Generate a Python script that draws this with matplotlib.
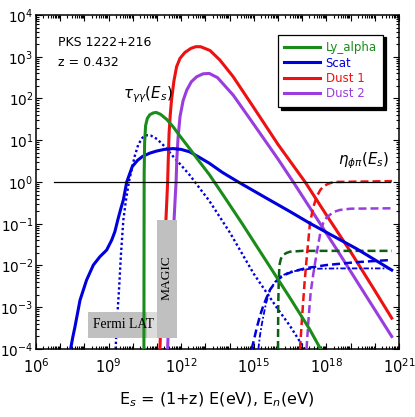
import numpy as np
import matplotlib
matplotlib.use('Agg')
import matplotlib.pyplot as plt
from matplotlib.patches import Rectangle
from matplotlib.ticker import LogLocator, FuncFormatter, NullFormatter

plt.rcParams['font.family'] = ['DejaVu Sans']
plt.rcParams['mathtext.fontset'] = 'dejavusans'

# ---------------- data (log10 of energy / log10 of value) ----------------
ly_logE = [10.46, 10.465, 10.47, 10.49, 10.53, 10.60, 10.70, 10.85, 10.97, 11.15, 11.40, 11.67, 11.95,
           12.40, 12.75, 13.16, 13.80, 14.50, 15.50, 16.50, 17.30, 17.76]
ly_tau = [-4.0, -1.5, 0.2, 0.95, 1.35, 1.52, 1.61, 1.655, 1.665, 1.62, 1.50, 1.32, 1.10,
          0.76, 0.49, 0.18, -0.37, -0.98, -1.88, -2.78, -3.52, -4.0]

scat_logE = [7.43, 7.52, 7.61, 7.82, 8.09, 8.37, 8.64, 8.92, 9.13, 9.26, 9.38, 9.50, 9.61, 9.75, 9.98,
             10.20, 10.40, 10.70, 10.98, 11.30, 11.67, 12.00, 12.36, 12.78, 13.16, 13.70, 14.36, 15.50,
             16.50, 17.32, 18.30, 19.25, 20.70]
scat_tau = [-4.0, -3.72, -3.47, -2.83, -2.35, -1.99, -1.79, -1.63, -1.39, -1.19, -0.91, -0.65, -0.43, 0.0, 0.37,
            0.52, 0.61, 0.69, 0.74, 0.78, 0.80, 0.78, 0.72, 0.58, 0.45, 0.23, 0.0, -0.38,
            -0.71, -0.99, -1.30, -1.60, -2.11]

dust1_logE = [11.12, 11.19, 11.26, 11.32, 11.37, 11.41, 11.44, 11.47, 11.50, 11.55, 11.60, 11.70, 11.81,
              11.95, 12.15, 12.40, 12.60, 12.80, 13.19, 13.60, 14.15, 15.00, 16.00, 17.12, 18.00, 19.00,
              20.00, 20.70]
dust1_tau = [-4.0, -3.0, -2.1, -1.45, -0.91, -0.4, 0.0, 0.6, 1.17, 1.62, 1.96, 2.42, 2.76,
             2.96, 3.10, 3.20, 3.24, 3.24, 3.15, 2.92, 2.52, 1.78, 0.90, 0.0, -0.79, -1.67,
             -2.60, -3.26]

dust2_logE = [11.44, 11.50, 11.56, 11.62, 11.67, 11.72, 11.76, 11.79, 11.82, 11.87, 11.95, 12.08, 12.23,
              12.42, 12.64, 12.90, 13.16, 13.50, 14.15, 15.00, 16.00, 16.63, 17.50, 18.50, 19.50, 20.70]
dust2_tau = [-4.0, -3.0, -2.2, -1.7, -1.31, -0.75, -0.3, 0.0, 0.55, 1.05, 1.56, 1.95, 2.20,
             2.40, 2.52, 2.59, 2.60, 2.50, 2.08, 1.38, 0.55, 0.0, -0.78, -1.68, -2.60, -3.70]

scat2_logE = [9.29, 9.35, 9.43, 9.51, 9.61, 9.72, 9.84, 9.95, 10.08, 10.23, 10.40, 10.55, 10.75, 11.00,
              11.30, 11.67, 12.00, 12.36, 12.75, 13.16, 14.00, 15.00, 16.00, 16.50, 17.10]
scat2_tau = [-4.0, -3.3, -2.59, -1.75, -0.91, -0.43, 0.0, 0.29, 0.62, 0.90, 1.06, 1.12, 1.11, 1.03,
             0.86, 0.61, 0.40, 0.16, -0.14, -0.45, -1.20, -2.20, -3.05, -3.45, -4.0]

# eta curves (dashed)
eta_ly_logE = [16.00, 16.01, 16.03, 16.06, 16.12, 16.21, 16.35, 16.50, 17.00, 20.71]
eta_ly = [-4.0, -3.0, -2.4, -1.99, -1.84, -1.75, -1.70, -1.67, -1.65, -1.65]

eta_scat_logE = [14.91, 15.00, 15.12, 15.25, 15.39, 15.53, 15.67, 15.87, 16.08, 16.30, 16.63, 17.19, 18.00,
                 19.25, 20.63]
eta_scat = [-4.0, -3.8, -3.5, -3.22, -2.97, -2.77, -2.58, -2.42, -2.30, -2.22, -2.14, -2.06, -1.99,
            -1.92, -1.87]

eta_scat2_logE = [15.19, 15.25, 15.32, 15.39, 15.50, 15.67, 15.87, 16.08, 16.50, 17.32, 18.50, 20.63]
eta_scat2 = [-4.0, -3.7, -3.45, -3.23, -2.92, -2.59, -2.40, -2.27, -2.15, -2.08, -2.07, -2.07]

eta_d1_logE = [16.91, 17.00, 17.10, 17.19, 17.32, 17.45, 17.60, 17.75, 17.87, 18.05, 18.30, 20.71]
eta_d1 = [-4.0, -3.2, -2.4, -1.8, -1.0, -0.62, -0.35, -0.19, -0.11, -0.05, 0.0, 0.02]

eta_d2_logE = [17.18, 17.26, 17.35, 17.46, 17.60, 17.74, 17.87, 18.01, 18.29, 18.56, 19.00, 20.71]
eta_d2 = [-4.0, -3.3, -2.65, -2.2, -1.7, -1.25, -0.98, -0.85, -0.72, -0.67, -0.64, -0.63]

unity_logE = [6.75, 20.63]
unity = [0.0, 0.0]

fermi_logE = [8.16, 10.99]
fermi_light_logE = [10.59, 10.99]
fermi_logy = [-3.74, -3.11]
magic_logE = [10.99, 11.84]
magic_logy = [-3.74, -0.91]

series_labels = ['Ly_alpha', 'Scat', 'Dust 1', 'Dust 2']
xtick_labeled = [6, 9, 12, 15, 18, 21]

# ---------------- styling ----------------
c_green = '#1a8c1a'
c_green_d = '#0e5e16'
c_blue = '#0000dd'
c_red = '#ee1111'
c_purple = '#9a3ddf'

def P(a):
    return 10.0 ** np.asarray(a, dtype=float)

fig = plt.figure(figsize=(4.15, 4.17), dpi=100)
ax = fig.add_axes([0.0867, 0.1631, 0.8747, 0.8010])
ax.set_xscale('log')
ax.set_yscale('log')
ax.set_xlim(1e6, 1e21)
ax.set_ylim(1e-4, 1e4)

lw = 2.2
h1, = ax.plot(P(ly_logE), P(ly_tau), color=c_green, lw=lw, zorder=5, label=series_labels[0])
h2, = ax.plot(P(scat_logE), P(scat_tau), color=c_blue, lw=lw, zorder=4, label=series_labels[1])
h3, = ax.plot(P(dust1_logE), P(dust1_tau), color=c_red, lw=lw, zorder=3, label=series_labels[2])
h4, = ax.plot(P(dust2_logE), P(dust2_tau), color=c_purple, lw=lw, zorder=3, label=series_labels[3])
ax.plot(P(scat2_logE), P(scat2_tau), color=c_blue, lw=1.7, ls=(0, (1, 1.1)), zorder=2)

dsh = (0, (3.2, 1.6))
ax.plot(P(eta_ly_logE), P(eta_ly), color=c_green_d, lw=1.8, ls=dsh, zorder=3)
ax.plot(P(eta_scat_logE), P(eta_scat), color=c_blue, lw=1.8, ls=dsh, zorder=3)
ax.plot(P(eta_scat2_logE), P(eta_scat2), color=c_blue, lw=1.3, ls=(0, (3, 1.2, 1, 1.2)), zorder=3)
ax.plot(P(eta_d1_logE), P(eta_d1), color=c_red, lw=1.8, ls=dsh, zorder=3)
ax.plot(P(eta_d2_logE), P(eta_d2), color=c_purple, lw=1.8, ls=dsh, zorder=3)

ax.plot(P(unity_logE), P(unity), color='black', lw=0.9, zorder=6)

# instrument boxes
fx0, fx1 = P(fermi_logE)
fy0, fy1 = P(fermi_logy)
ax.add_patch(Rectangle((fx0, fy0), fx1 - fx0, fy1 - fy0, facecolor='#c0c0c0', edgecolor='none', zorder=4.5))
lx0, lx1 = P(fermi_light_logE)
ax.add_patch(Rectangle((lx0, fy0), lx1 - lx0, fy1 - fy0, facecolor='#dcdcdc', edgecolor='none', zorder=4.6))
mx0, mx1 = P(magic_logE)
my0, my1 = P(magic_logy)
ax.add_patch(Rectangle((mx0, my0), mx1 - mx0, my1 - my0, facecolor='#c0c0c0', edgecolor='none', zorder=7))
ax.text(10 ** (np.mean(fermi_logE) + 0.06), 10 ** np.mean(fermi_logy), 'Fermi LAT', family='Liberation Serif',
        fontsize=9.8, ha='center', va='center', zorder=8)
ax.text(10 ** np.mean(magic_logE), 10 ** (-2.30), 'MAGIC', family='Liberation Serif',
        fontsize=9.7, ha='center', va='center', rotation=90, zorder=8)

# annotations
ax.text(0.060, 0.918, 'PKS 1222+216', transform=ax.transAxes, fontsize=9.0, ha='left', va='center')
ax.text(0.060, 0.858, 'z = 0.432', transform=ax.transAxes, fontsize=9.0, ha='left', va='center')
ax.text(0.240, 0.762, r'$\tau_{\gamma\gamma}(E_s)$', transform=ax.transAxes, fontsize=10.8, ha='left', va='center')
ax.text(0.832, 0.563, r'$\eta_{\phi\pi}(E_s)$', transform=ax.transAxes, fontsize=10.8, ha='left', va='center')

# legend
leg = ax.legend(handles=[h1, h2, h3, h4], loc='upper right', bbox_to_anchor=(383.3 / 415, 1 - 34.7 / 417),
                bbox_transform=fig.transFigure, borderaxespad=0, fontsize=8.5, labelcolor='linecolor',
                fancybox=False, frameon=True, handlelength=3.0, handletextpad=0.5, labelspacing=0.2,
                borderpad=0.55, shadow={'color': 'black', 'alpha': 1.0})
leg.get_frame().set_edgecolor('black')
leg.get_frame().set_linewidth(0.9)
leg.set_zorder(10)

# ticks
ax.xaxis.set_major_locator(LogLocator(base=10, numticks=40))
ax.xaxis.set_minor_locator(LogLocator(base=10, subs=np.arange(2, 10), numticks=400))
ax.yaxis.set_major_locator(LogLocator(base=10, numticks=40))
ax.yaxis.set_minor_locator(LogLocator(base=10, subs=np.arange(2, 10), numticks=400))

def xfmt(v, pos):
    e = int(round(np.log10(v)))
    return r'$10^{%d}$' % e if e in xtick_labeled else ''

def yfmt(v, pos):
    e = int(round(np.log10(v)))
    return r'$10^{%d}$' % e

ax.xaxis.set_major_formatter(FuncFormatter(xfmt))
ax.yaxis.set_major_formatter(FuncFormatter(yfmt))
ax.xaxis.set_minor_formatter(NullFormatter())
ax.yaxis.set_minor_formatter(NullFormatter())
ax.tick_params(which='both', direction='in', top=True, right=True, width=0.8)
ax.tick_params(axis='x', labelsize=10.5)
ax.tick_params(axis='y', labelsize=9.8)
ax.tick_params(which='major', length=4.5)
ax.tick_params(axis='x', which='major', pad=6)
ax.tick_params(axis='y', which='major', pad=2)
ax.tick_params(which='minor', length=2.2)
for s in ax.spines.values():
    s.set_linewidth(1.1)

fig.text(216.5 / 415, 1 - 400 / 417, r'E$_s$ = (1+z) E(eV), E$_n$(eV)', fontsize=11.5, ha='center', va='center')

fig.savefig('out.png', dpi=100)
